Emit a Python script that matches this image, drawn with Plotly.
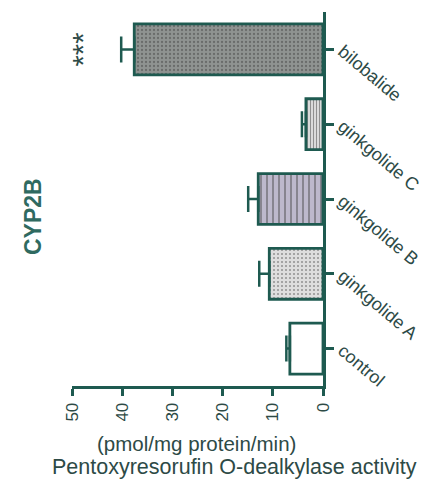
import plotly.graph_objects as go

# CYP2B pentoxyresorufin O-dealkylase activity by treatment
categories = ["control", "ginkgolide A", "ginkgolide B", "ginkgolide C", "bilobalide"]
activity = [6.6, 10.7, 12.9, 3.4, 37.6]
sem = [0.7, 2.0, 2.0, 0.8, 2.6]
value_ticks = [0, 10, 20, 30, 40, 50]

ink = "#1e5a50"
text_col = "#2d4a46"

fills = ["#ffffff", "#dedede", "#bdb8cc", "#dadada", "#8f9391"]
pattern_shapes = ["", ".", "|", "|", "."]
pattern_fg = ["#ffffff", "#c8c8c8", "#45b08a", "#8e8e8e", "#7c807e"]
pattern_size = [6, 4, 6, 3, 4]
pattern_solidity = [0.3, 0.2, 0.3, 0.35, 0.25]

fig = go.Figure()
fig.add_trace(go.Bar(
    x=activity,
    y=categories,
    orientation="h",
    width=0.68,
    marker=dict(
        color=fills,
        line=dict(color=ink, width=2.8),
        pattern=dict(shape=pattern_shapes, fgcolor=pattern_fg,
                     bgcolor=fills, size=pattern_size, solidity=pattern_solidity),
    ),
    error_x=dict(type="data", array=sem, arrayminus=[0] * len(sem),
                 symmetric=False, color=ink, thickness=2.5, width=13),
    showlegend=False,
))

fig.update_layout(
    width=435, height=484,
    margin=dict(l=72, r=112, t=12, b=98),
    paper_bgcolor="white", plot_bgcolor="white",
    font=dict(family="Liberation Sans, Arial, sans-serif", size=14, color=text_col),
)

# significance marker beside the bilobalide bar
fig.add_annotation(x=47.8, y="bilobalide", xref="x", yref="y", text="***",
                   showarrow=False, textangle=-90,
                   font=dict(size=29, color=text_col))

# panel label
fig.add_annotation(x=33, y=217, text="<b>CYP2B</b>",
                   showarrow=False, textangle=-90,
                   font=dict(size=23, color="#2f6a60"))

# value-axis title in two lines
fig.add_annotation(x=196, y=443, text="(pmol/mg protein/min)", showarrow=False,
                   font=dict(size=20.5, color=text_col))
fig.add_annotation(x=234, y=467, text="Pentoxyresorufin O-dealkylase activity",
                   showarrow=False, font=dict(size=21.5, color=text_col))

# place the free annotations in pixel terms of the page
W, H = 435, 484
L, R, T, B = 72, 112, 12, 98
pw, ph = W - L - R, H - T - B
for a in fig.layout.annotations[1:]:
    a.xref = "paper"
    a.yref = "paper"
    a.xanchor = "center"
    a.yanchor = "middle"
    a.x = (a.x - L) / pw
    a.y = (H - B - a.y) / ph

fig.update_xaxes(
    range=[50, 0], tickvals=value_ticks, ticktext=[str(v) for v in value_ticks],
    tickangle=-90, ticks="outside", ticklen=7, tickwidth=2.5, tickcolor=ink,
    showline=True, linecolor=ink, linewidth=2.8, showgrid=False, zeroline=False,
    tickfont=dict(size=17, color=text_col),
)
fig.update_yaxes(
    categoryorder="array", categoryarray=categories, range=[-0.5, 4.5],
    side="right", tickangle=40, ticks="outside", ticklen=8, tickwidth=2.5,
    tickcolor=ink, showline=True, linecolor=ink, linewidth=2.8,
    showgrid=False, zeroline=False, ticklabelstandoff=5,
    tickfont=dict(size=18, color=text_col),
)

fig.write_html("out.html")
